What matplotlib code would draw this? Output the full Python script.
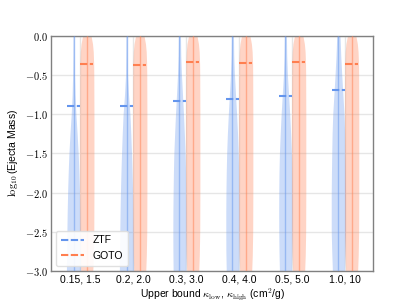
import numpy as np
import matplotlib
matplotlib.use("Agg")
import matplotlib.pyplot as plt
from matplotlib.lines import Line2D

plt.rcParams['font.family'] = ['Liberation Sans', 'DejaVu Sans']
plt.rcParams['mathtext.fontset'] = 'cm'

categories = ["0.15, 1.5", "0.2, 2.0", "0.3, 3.0", "0.4, 4.0", "0.5, 5.0", "1.0, 10"]
ztf_median = [-0.90, -0.89, -0.83, -0.81, -0.77, -0.685]
goto_median = [-0.36, -0.37, -0.335, -0.345, -0.335, -0.355]

# violin profiles: y levels and relative half-widths
prof_y = [0.30, 0.0, -0.25, -0.5, -0.75, -1.0, -1.25, -1.5, -1.75, -2.0, -2.25, -2.5, -2.75, -3.0, -3.2]
ztf_prof = [
    [0.06, 0.08, 0.10, 0.13, 0.20, 0.33, 0.50, 0.65, 0.75, 0.83, 0.89, 0.93, 0.97, 1.0, 1.0],
    [0.07, 0.09, 0.11, 0.14, 0.28, 0.48, 0.60, 0.70, 0.78, 0.85, 0.90, 0.94, 0.97, 1.0, 1.0],
    [0.10, 0.14, 0.18, 0.28, 0.42, 0.56, 0.68, 0.79, 0.85, 0.89, 0.92, 0.93, 0.92, 0.89, 0.80],
    [0.10, 0.14, 0.18, 0.28, 0.43, 0.58, 0.71, 0.81, 0.87, 0.91, 0.93, 0.93, 0.92, 0.87, 0.78],
    [0.10, 0.14, 0.18, 0.28, 0.44, 0.60, 0.73, 0.84, 0.90, 0.93, 0.94, 0.93, 0.90, 0.84, 0.74],
    [0.18, 0.23, 0.33, 0.47, 0.63, 0.79, 0.88, 0.93, 0.97, 1.0, 1.0, 1.0, 0.93, 0.84, 0.75],
]
goto_y = [0.07, 0.05, 0.02, 0.0, -0.1, -0.2, -0.35, -0.5, -1.0, -1.5, -2.0, -2.5, -2.8, -3.0, -3.2]
goto_prof = [0.0, 0.3, 0.5, 0.6, 0.8, 0.9, 0.96, 0.98, 1.0, 1.0, 1.0, 0.98, 0.92, 0.84, 0.65]

blue = '#6495ED'
orange = '#FF7F50'
fs = 7.5

fig = plt.figure(figsize=(4.15, 3.05), dpi=100)
ax = fig.add_axes([0.123, 0.112, 0.776, 0.770])

x = np.arange(len(categories))
off = 0.125
hw = 0.135
for i in range(len(categories)):
    cb = x[i] - off
    co = x[i] + off
    w = np.array(ztf_prof[i]) * hw
    ax.fill_betweenx(prof_y, cb - w, cb + w, color=blue, alpha=0.33, lw=0, zorder=2)
    w2 = np.array(goto_prof) * hw
    ax.fill_betweenx(goto_y, co - w2, co + w2, color=orange, alpha=0.33, lw=0, zorder=2)
    ax.plot([cb, cb], [0.5, -3.5], color=blue, alpha=0.5, lw=1, zorder=3)
    ax.plot([co, co], [0.5, -3.5], color=orange, alpha=0.5, lw=1, zorder=3)
    ax.plot([cb - off, cb + off], [ztf_median[i]] * 2, color=blue, lw=1.5,
            dashes=(3.5, 1.2), zorder=4)
    ax.plot([co - off, co + off], [goto_median[i]] * 2, color=orange, lw=1.5,
            dashes=(3.5, 1.2), zorder=4)

ax.set_xlim(-0.55, 5.53)
ax.set_ylim(-3.0, 0.0)
ax.set_xticks(x)
ax.set_xticklabels(categories, fontsize=fs)
yt = [0.0, -0.5, -1.0, -1.5, -2.0, -2.5, -3.0]
ax.set_yticks(yt)
ax.set_yticklabels([r'$%.1f$' % v for v in yt], fontsize=fs)
ax.tick_params(length=0, pad=2.5)
ax.grid(True, color='#e6e6e6', lw=1, zorder=0)
ax.set_axisbelow(True)
for s in ax.spines.values():
    s.set_color('0.5')
    s.set_linewidth(1)

ax.set_ylabel(r'$\log_{10}$(Ejecta Mass)', fontsize=fs, labelpad=3)
ax.set_xlabel(r'Upper bound $\kappa_{\rm low}$, $\kappa_{\rm high}$ (cm$^2$/g)', fontsize=fs, labelpad=1)

handles = [Line2D([], [], color=blue, lw=1.5, dashes=(3.5, 1.2)),
           Line2D([], [], color=orange, lw=1.5, dashes=(3.5, 1.2))]
leg = ax.legend(handles, ['ZTF', 'GOTO'], loc='lower left', fontsize=fs,
                framealpha=0.9, edgecolor='#dddddd', handlelength=2.2,
                handletextpad=0.85, borderpad=0.45, labelspacing=0.55,
                borderaxespad=0.5)

fig.savefig('out.png', dpi=100)
